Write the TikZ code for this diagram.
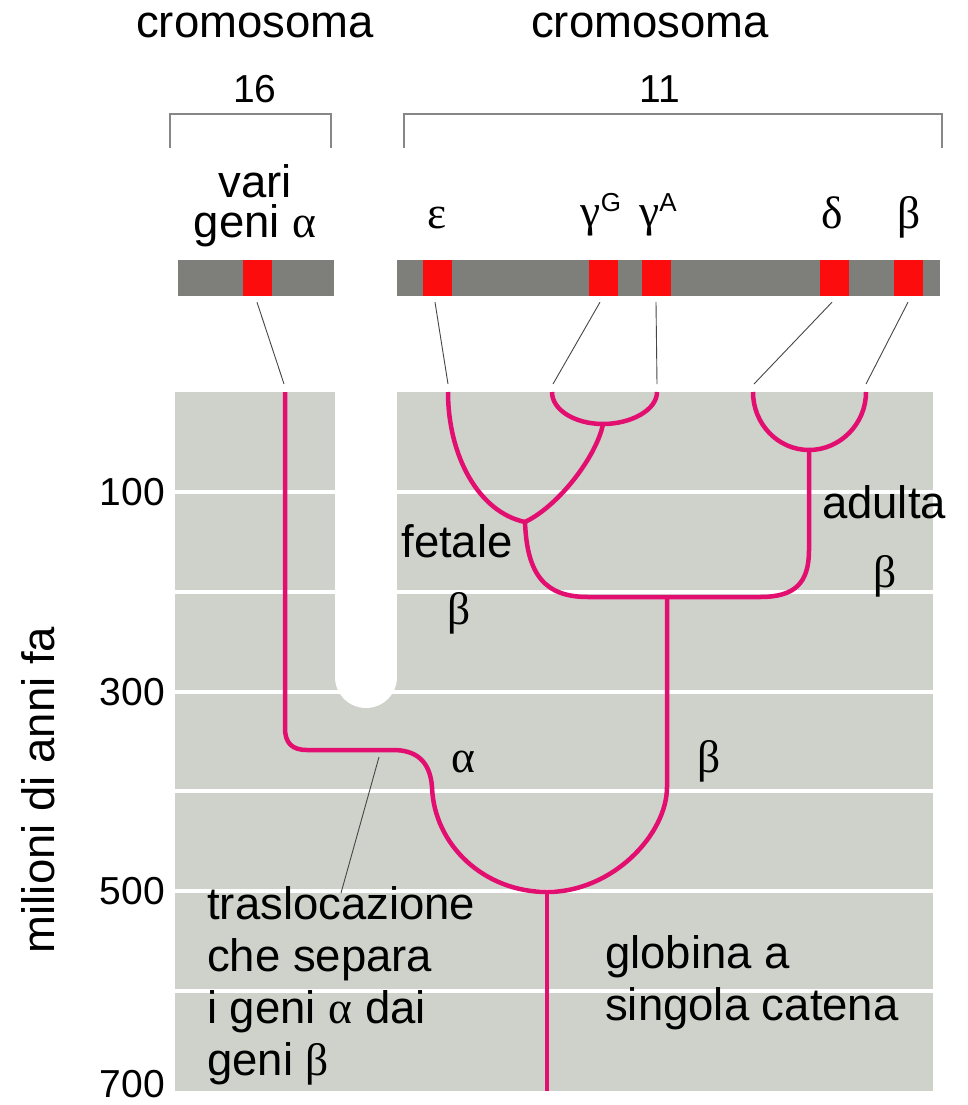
\documentclass[tikz,border=0pt]{standalone}
\usepackage{fontspec}
\setmainfont{Liberation Sans}
\newfontfamily\greekfont{Liberation Serif}
\definecolor{panelgray}{RGB}{206,210,202}
\definecolor{chromgray}{RGB}{126,126,123}
\definecolor{genered}{RGB}{252,12,12}
\definecolor{lineage}{RGB}{226,14,112}
\definecolor{leadergray}{RGB}{70,70,70}
\definecolor{bracketgray}{RGB}{135,135,135}
\newcommand\gk[1]{{\greekfont #1}}
\newcommand\supl[1]{\raisebox{15pt}{\fontsize{26}{26}\selectfont #1}}

\begin{document}
\begin{tikzpicture}[x=1pt, y=-1pt,
  txt/.style={font=\fontsize{45.5}{52}\selectfont, inner sep=0pt},
  num/.style={font=\fontsize{39}{46}\selectfont, inner sep=0pt},
  lin/.style={draw=lineage, line width=4.5pt, line join=round},
  leader/.style={draw=leadergray, line width=0.9pt},
  gene/.style={fill=genered, minimum width=29pt, minimum height=36pt, inner sep=0pt},
  bracket/.style={draw=bracketgray, line width=1.5pt},
  gridline/.style={draw=white, line width=4pt}]

\useasboundingbox (0,0) rectangle (967,1105);
\fill[white] (0,0) rectangle (967,1105);

% time panel with the slot between the two chromosomes
\fill[panelgray] (175,392) rectangle (933,1091);
\foreach \yy in {492,592,692,791,891,991}
  \draw[gridline] (175,\yy) -- (933,\yy);
\fill[white] (335,388) rectangle (397,677);
\fill[white] (366,677) circle (31);

% headers and brackets
\node[txt, anchor=base] (crom16) at (255,38) {cromosoma};
\node[txt, anchor=base] (crom11) at (650,38) {cromosoma};
\node[num, anchor=base] (n16) at (255,103) {16};
\node[num, anchor=base] (n11) at (660,103) {11};
\draw[bracket] (170,148) -- (170,114) -- (331,114) -- (331,148);
\draw[bracket] (404,148) -- (404,114) -- (942,114) -- (942,148);

% chromosomes with the globin genes
\fill[chromgray] (178,260) rectangle (334,296);
\fill[chromgray] (397,260) rectangle (940,296);
\node[gene] (gAl) at (257,278) {};
\node[gene] (gE)  at (437,278) {};
\node[gene] (gGG) at (603,278) {};
\node[gene] (gGA) at (656,278) {};
\node[gene] (gD)  at (834,278) {};
\node[gene] (gB)  at (908,278) {};

% gene labels
\node[txt, font=\fontsize{45.5}{40}\selectfont, anchor=north, align=center]
  (labvari) at (255,164) {vari\\geni \gk{α}};
\node[txt, anchor=base] (labE)  at (437,228) {\gk{ε}};
\node[txt, anchor=base] (labGG) at (601,226) {\gk{γ}\supl{G}};
\node[txt, anchor=base] (labGA) at (658,226) {\gk{γ}\supl{A}};
\node[txt, anchor=base] (labD)  at (832,228) {\gk{δ}};
\node[txt, anchor=base] (labB)  at (909,228) {\gk{β}};

% lineage tips, branch points and root
\coordinate (tA)  at (285,392);
\coordinate (tE)  at (448,392);
\coordinate (tGG) at (552,392);
\coordinate (tGA) at (657,392);
\coordinate (tD)  at (753,392);
\coordinate (tB)  at (866,392);
\coordinate (jG)  at (603,424);
\coordinate (jF)  at (525,522);
\coordinate (jAd) at (809,450);
\coordinate (jB)  at (667,597);
\coordinate (jR)  at (547,892);
\coordinate (root) at (547,1091);

% leaders from genes to lineage tips
\coordinate (eA)  at (284,384);
\coordinate (eE)  at (448,384);
\coordinate (eGG) at (553,384);
\coordinate (eGA) at (657,384);
\coordinate (eD)  at (754,384);
\coordinate (eB)  at (866,384);
\draw[leader] ([yshift=-6pt]gAl.south) -- (eA);
\draw[leader] ([yshift=-6pt,xshift=-2pt]gE.south) -- (eE);
\draw[leader] ([yshift=-6pt,xshift=-3pt]gGG.south) -- (eGG);
\draw[leader] ([yshift=-6pt]gGA.south) -- (eGA);
\draw[leader] ([yshift=-6pt,xshift=-2pt]gD.south) -- (eD);
\draw[leader] ([yshift=-6pt]gB.south) -- (eB);

% evolutionary tree
\draw[lin] (tA) -- (285,728) .. controls (285,743) and (292,750) .. (307,750)
  -- (393,750) .. controls (415,750) and (430,760) .. (432,787)
  .. controls (434,845) and (484,892) .. (jR);
\draw[lin] (jR) .. controls (613,892) and (667,834) .. (667,787) -- (jB);
\draw[lin] (jR) -- (root);
\draw[lin] (jF) .. controls (527,575) and (545,597) .. (588,597) -- (760,597)
  .. controls (795,597) and (809,583) .. (809,550) -- (jAd);
\draw[lin] (tD) .. controls (753,424) and (778,450) .. (jAd)
  .. controls (840,450) and (866,424) .. (tB);
\draw[lin] (tGG) .. controls (552,410) and (575,424) .. (jG)
  .. controls (631,424) and (657,410) .. (tGA);
\draw[lin] (jG) .. controls (597,455) and (560,505) .. (jF);
\draw[lin] (tE) .. controls (448,455) and (478,512) .. (jF);

% branch labels
\node[txt, anchor=base] (labfet) at (457,557) {fetale};
\node[txt, anchor=base] (labfetb) at (459,624) {\gk{β}};
\node[txt, anchor=base] (labad) at (884,518) {adulta};
\node[txt, anchor=base] (labadb) at (885,587) {\gk{β}};
\node[txt, anchor=base] (labal) at (463,772) {\gk{α}};
\node[txt, anchor=base] (labbe) at (709,772) {\gk{β}};

% notes
\node[txt, anchor=north west, align=left] (transl) at (207,886)
  {traslocazione\\che separa\\i geni \gk{α} dai\\geni \gk{β}};
\coordinate (eT) at (341,893);
\draw[leader] (379,757) -- (eT);
\node[txt, anchor=north west, align=left] (single) at (605,935)
  {globina a\\singola catena};

% time axis
\node[num, anchor=east] (t100) at (165,492) {100};
\node[num, anchor=east] (t300) at (165,692) {300};
\node[num, anchor=east] (t500) at (165,891) {500};
\node[num, anchor=east] (t700) at (165,1084) {700};
\node[txt, rotate=90] (axis) at (38,790) {milioni di anni fa};
\end{tikzpicture}
\end{document}
